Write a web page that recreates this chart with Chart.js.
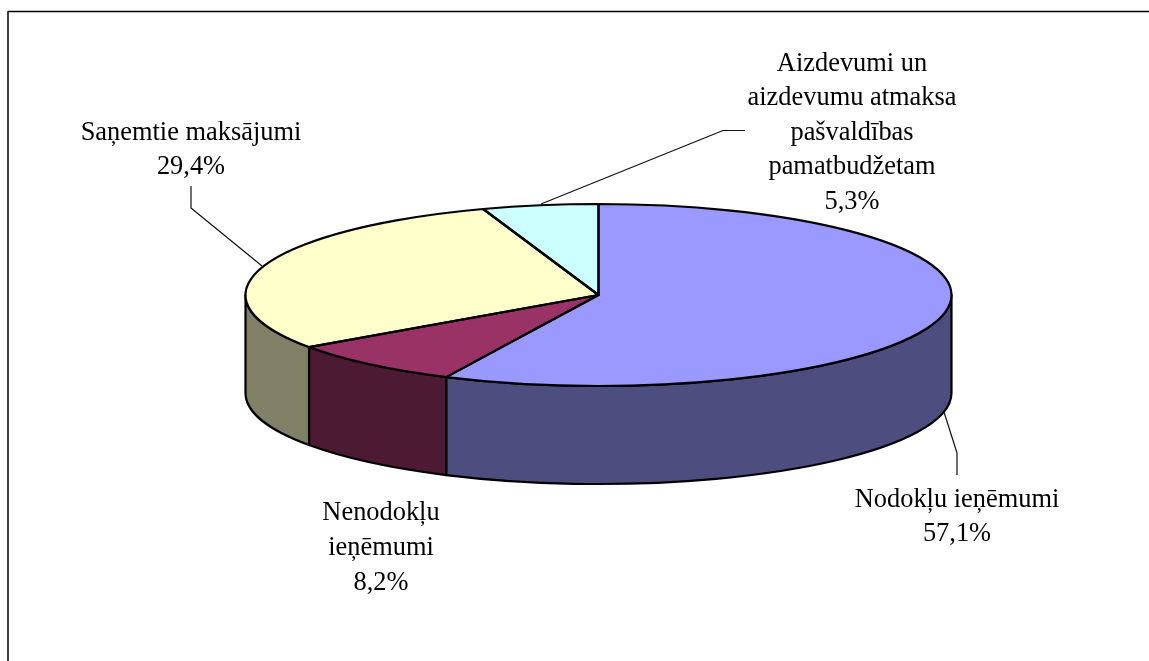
<!DOCTYPE html>
<html>
<head>
<meta charset="utf-8">
<title>Ieņēmumi</title>
<script src="https://cdn.jsdelivr.net/npm/chart.js@4"></script>
<style>
  html, body { margin: 0; padding: 0; background: #fff; overflow: hidden; }
  canvas { display: block; }
</style>
</head>
<body>
<canvas id="pieChart" width="1149" height="661"></canvas>
<script>
const categories = ['Nodokļu ieņēmumi', 'Nenodokļu ieņēmumi', 'Saņemtie maksājumi', 'Aizdevumi un aizdevumu atmaksa pašvaldības pamatbudžetam'];
const shares = [57.1, 8.2, 29.4, 5.3];
const topColors = ['#9999FF', '#993366', '#FFFFCC', '#CCFFFF'];
const sideColors = ['#4D4D80', '#4D1A33', '#808066', '#668080'];

// label text split the way it wraps in the picture, name lines per slice
const labelLines = [
    ['Nodokļu ieņēmumi'],
    ['Nenodokļu', 'ieņēmumi'],
    ['Saņemtie maksājumi'],
    ['Aizdevumi un', 'aizdevumu atmaksa', 'pašvaldības', 'pamatbudžetam']
];
// centre x and middle y of the first line of each label
const labelAnchors = [[957, 500], [381, 513], [191, 133], [852, 64]];
const labelLineHeights = [34, 35, 34, 34.5];
const leaderLines = [
    [[944, 412], [957, 453], [957, 475]],
    [],
    [[262, 266], [191, 208], [191, 186]],
    [[541, 204], [723, 130.5], [745, 130.5]]
];

const squash = 91 / 353;
const depth = 98;

const pie3d = {
    id: 'pie3d',
    beforeDatasetsDraw(chart) {
        const ctx = chart.ctx;
        const arcs = chart.getDatasetMeta(0).data;
        // side wall, only the front half of the ellipse shows
        arcs.forEach((arc, i) => {
            const a = Math.max(arc.startAngle, 0);
            const b = Math.min(arc.endAngle, Math.PI);
            if (b <= a) return;
            const ry = arc.outerRadius * squash;
            ctx.beginPath();
            ctx.ellipse(arc.x, arc.y, arc.outerRadius, ry, 0, a, b);
            ctx.ellipse(arc.x, arc.y + depth, arc.outerRadius, ry, 0, b, a, true);
            ctx.closePath();
            ctx.fillStyle = sideColors[i];
            ctx.fill();
            ctx.lineWidth = 2.2;
            ctx.strokeStyle = '#000';
            ctx.lineJoin = 'round';
            ctx.stroke();
        });
        // flatten the top face that Chart.js draws next
        const cy = arcs[0].y;
        ctx.save();
        ctx.translate(0, cy);
        ctx.scale(1, squash);
        ctx.translate(0, -cy);
    },
    afterDatasetsDraw(chart) {
        const ctx = chart.ctx;
        ctx.restore();
        const arcs = chart.getDatasetMeta(0).data;
        ctx.lineWidth = 2.2;
        ctx.strokeStyle = '#000';
        ctx.lineJoin = 'round';
        arcs.forEach(arc => {
            ctx.beginPath();
            ctx.moveTo(arc.x, arc.y);
            ctx.ellipse(arc.x, arc.y, arc.outerRadius, arc.outerRadius * squash, 0, arc.startAngle, arc.endAngle);
            ctx.closePath();
            ctx.stroke();
        });

        // chart frame, only top and left edges are inside the picture
        ctx.lineWidth = 1.5;
        ctx.strokeStyle = '#000';
        ctx.beginPath();
        ctx.moveTo(8, 661);
        ctx.lineTo(8, 11.5);
        ctx.lineTo(1149, 11.5);
        ctx.stroke();

        // leader lines
        ctx.lineWidth = 1.2;
        ctx.strokeStyle = '#111';
        leaderLines.forEach(pts => {
            if (!pts.length) return;
            ctx.beginPath();
            pts.forEach((p, k) => k ? ctx.lineTo(p[0], p[1]) : ctx.moveTo(p[0], p[1]));
            ctx.stroke();
        });

        // labels
        ctx.font = '26.4px "Liberation Serif"';
        ctx.fillStyle = '#000';
        ctx.textAlign = 'center';
        ctx.textBaseline = 'middle';
        labelLines.forEach((lines, i) => {
            const all = lines.concat(shares[i].toFixed(1).replace('.', ',') + '%');
            all.forEach((t, k) => {
                ctx.fillText(t, labelAnchors[i][0], labelAnchors[i][1] + k * labelLineHeights[i]);
            });
        });
    }
};

new Chart(document.getElementById('pieChart').getContext('2d'), {
    type: 'pie',
    data: {
        labels: categories,
        datasets: [{
            data: shares,
            backgroundColor: topColors,
            borderWidth: 0,
            hoverOffset: 0,
            clip: false
        }]
    },
    options: {
        responsive: false,
        animation: false,
        radius: 353,
        // puts the pie centre at 598.5, 295
        layout: { padding: { left: 48, right: 0, top: 0, bottom: 71 } },
        plugins: {
            legend: { display: false },
            tooltip: { enabled: false }
        }
    },
    plugins: [pie3d]
});
</script>
</body>
</html>
